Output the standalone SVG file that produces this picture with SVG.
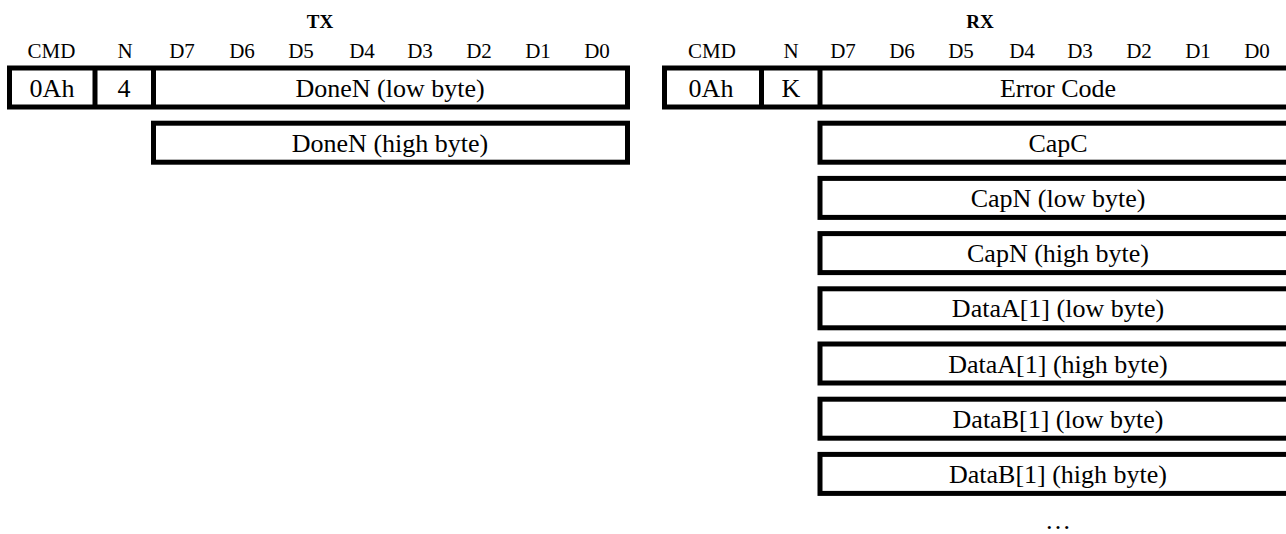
<svg xmlns="http://www.w3.org/2000/svg" width="1286" height="534" viewBox="0 0 1286 534">
<style>
text{font-family:"Liberation Serif","Times New Roman",serif;fill:#000;text-anchor:middle}
.hd{font-size:19px;font-weight:bold}
.lb{font-size:21px}
.cell{font-size:26px}
.box{fill:#fff;stroke:#000;stroke-width:5}
.div{stroke:#000;stroke-width:5}
</style>
<rect width="1286" height="534" fill="#fff"/>
<g id="tx-header">
<text class="hd" x="320" y="28">TX</text>
<text class="lb" x="51.5" y="58">CMD</text>
<text class="lb" x="125" y="58">N</text>
<text class="lb" x="182" y="58">D7</text>
<text class="lb" x="242" y="58">D6</text>
<text class="lb" x="301" y="58">D5</text>
<text class="lb" x="362" y="58">D4</text>
<text class="lb" x="420" y="58">D3</text>
<text class="lb" x="479" y="58">D2</text>
<text class="lb" x="538" y="58">D1</text>
<text class="lb" x="597" y="58">D0</text>
</g>
<g id="rx-header">
<text class="hd" x="980" y="28">RX</text>
<text class="lb" x="712" y="58">CMD</text>
<text class="lb" x="791" y="58">N</text>
<text class="lb" x="843" y="58">D7</text>
<text class="lb" x="902" y="58">D6</text>
<text class="lb" x="961" y="58">D5</text>
<text class="lb" x="1022" y="58">D4</text>
<text class="lb" x="1080" y="58">D3</text>
<text class="lb" x="1139" y="58">D2</text>
<text class="lb" x="1198" y="58">D1</text>
<text class="lb" x="1257" y="58">D0</text>
</g>
<g id="tx-row0">
<rect class="box" x="9.5" y="68" width="618" height="39"/>
<line class="div" x1="95" y1="68" x2="95" y2="107"/>
<line class="div" x1="153.5" y1="68" x2="153.5" y2="107"/>
<text class="cell" x="52" y="96.5">0Ah</text>
<text class="cell" x="124" y="96.5">4</text>
<text class="cell" x="390" y="96.5">DoneN (low byte)</text>
</g>
<g id="tx-row1">
<rect class="box" x="153.5" y="123.2" width="474" height="39"/>
<text class="cell" x="390" y="151.7">DoneN (high byte)</text>
</g>
<g id="rx-row0">
<rect class="box" x="664.5" y="68" width="636" height="39"/>
<line class="div" x1="761.5" y1="68" x2="761.5" y2="107"/>
<line class="div" x1="820" y1="68" x2="820" y2="107"/>
<text class="cell" x="711" y="96.5">0Ah</text>
<text class="cell" x="791" y="96.5">K</text>
<text class="cell" x="1058" y="96.5">Error Code</text>
</g>
<g id="rx-row1">
<rect class="box" x="820" y="123.2" width="480" height="39"/>
<text class="cell" x="1058" y="151.7">CapC</text>
</g>
<g id="rx-row2">
<rect class="box" x="820" y="178.4" width="480" height="39"/>
<text class="cell" x="1058" y="206.9">CapN (low byte)</text>
</g>
<g id="rx-row3">
<rect class="box" x="820" y="233.6" width="480" height="39"/>
<text class="cell" x="1058" y="262.1">CapN (high byte)</text>
</g>
<g id="rx-row4">
<rect class="box" x="820" y="288.8" width="480" height="39"/>
<text class="cell" x="1058" y="317.3">DataA[1] (low byte)</text>
</g>
<g id="rx-row5">
<rect class="box" x="820" y="344" width="480" height="39"/>
<text class="cell" x="1058" y="372.5">DataA[1] (high byte)</text>
</g>
<g id="rx-row6">
<rect class="box" x="820" y="399.2" width="480" height="39"/>
<text class="cell" x="1058" y="427.7">DataB[1] (low byte)</text>
</g>
<g id="rx-row7">
<rect class="box" x="820" y="454.4" width="480" height="39"/>
<text class="cell" x="1058" y="482.9">DataB[1] (high byte)</text>
</g>
<g id="rx-more">
<text class="cell" x="1058" y="529">…</text>
</g>
<g id="connectors"></g>
</svg>
